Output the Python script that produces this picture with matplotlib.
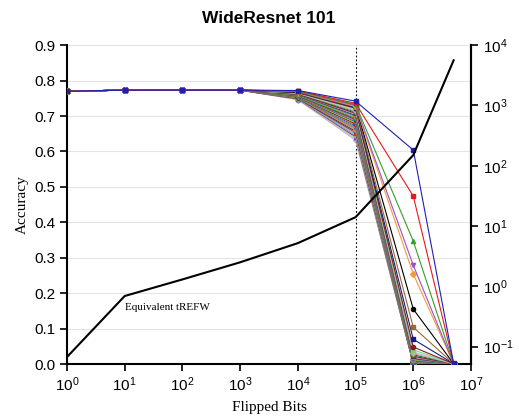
import matplotlib
matplotlib.use("Agg")
import matplotlib.pyplot as plt

plt.rcParams['font.family'] = ['Liberation Sans', 'DejaVu Sans']
plt.rcParams['axes.unicode_minus'] = False

# flipped bits at which accuracy was measured
bits = [1, 10, 100, 1000, 1e4, 1e5, 1e6, 5e6]

# accuracy shared by all runs for the first four points (1 .. 1000 bits)
acc_low = [0.770, 0.773, 0.773, 0.773]

# per-run accuracy at 1e4, 1e5, 1e6 and 5e6 flipped bits
acc_1e4 = [0.772, 0.771, 0.770, 0.770, 0.769, 0.768, 0.768, 0.767, 0.766, 0.765,
           0.765, 0.764, 0.763, 0.762, 0.762, 0.761, 0.760, 0.759, 0.758, 0.757,
           0.757, 0.756, 0.755, 0.754, 0.754, 0.753, 0.752, 0.751, 0.751, 0.750,
           0.749, 0.749, 0.748, 0.748, 0.747, 0.746]
acc_1e5 = [0.742, 0.736, 0.733, 0.730, 0.728, 0.731, 0.726, 0.724, 0.722, 0.720,
           0.717, 0.714, 0.711, 0.708, 0.705, 0.702, 0.699, 0.696, 0.693, 0.690,
           0.687, 0.684, 0.681, 0.678, 0.675, 0.672, 0.668, 0.665, 0.661, 0.657,
           0.653, 0.649, 0.645, 0.641, 0.636, 0.632]
acc_1e6 = [0.604, 0.474, 0.347, 0.279, 0.254, 0.155, 0.104, 0.070, 0.048, 0.040,
           0.034, 0.030, 0.026, 0.022, 0.019, 0.016, 0.014, 0.012, 0.010, 0.009,
           0.008, 0.007, 0.006, 0.005, 0.005, 0.004, 0.004, 0.003, 0.003, 0.002,
           0.002, 0.002, 0.001, 0.001, 0.001, 0.001]
acc_5e6 = [0.002, 0.001, 0.001, 0.001, 0.001, 0.001, 0.001, 0.001, 0.001, 0.001,
           0.001, 0.001, 0.001, 0.001, 0.001, 0.001, 0.001, 0.001, 0.001, 0.001,
           0.001, 0.001, 0.001, 0.001, 0.001, 0.001, 0.001, 0.001, 0.001, 0.001,
           0.001, 0.001, 0.001, 0.001, 0.001, 0.001]

# equivalent tREFW (right axis, log scale)
trefw = [0.067, 0.69, 1.3, 2.5, 5.2, 14, 150, 5600]

colors = ['#1f1fb4', '#e41a1c', '#33a02c', '#9a4fd0', '#f39c3c', '#000000',
          '#9c6b30', '#1a1a80', '#8b1a1a', '#7fcf7f', '#a6c8f0', '#c8a070',
          '#2e6b2e', '#6a1b6a', '#d08080', '#404040', '#5a7fd0', '#b0b000',
          '#008080', '#804000', '#cc66cc', '#336699', '#99cc33', '#663300',
          '#ff6666', '#3366cc', '#669966', '#996699', '#cc9933', '#333366',
          '#cc3333', '#66cccc', '#999999', '#6633cc', '#cccc66', '#b0b0e0']
markers = ['s', 's', '^', 'v', 'D', 'o', 's', 's', 'o', '^', 'v', 'D']

fig = plt.figure(figsize=(5.19, 4.18), dpi=100)
ax = fig.add_axes([0.129, 0.129, 0.7785, 0.763])

for i in reversed(range(len(acc_1e4))):
    y = acc_low + [acc_1e4[i], acc_1e5[i], acc_1e6[i], acc_5e6[i]]
    ax.plot(bits, y, color=colors[i], lw=0.8, marker=markers[i % len(markers)],
            ms=3, zorder=3)

ax.axvline(1e5, color='black', ls=(0, (1.5, 2)), lw=0.8, zorder=2)

ax.set_xscale('log')
ax.set_xlim(1, 1e7)
ax.set_ylim(0, 0.9)
ax.set_yticks([i / 10 for i in range(10)])
ax.set_yticklabels([f"{i / 10:.1f}" for i in range(10)])
ax.set_xticks([10 ** k for k in range(8)])
ax.minorticks_off()
ax.grid(axis='y', color='#e4e4e4', lw=0.8)
ax.set_axisbelow(True)

ax.spines['top'].set_visible(False)
for s in ['left', 'bottom', 'right']:
    ax.spines[s].set_linewidth(1.5)
ax.tick_params(direction='out', length=5, width=1.2, labelsize=11)

ax.set_xlabel("Flipped Bits", family='Liberation Serif', fontsize=11, labelpad=5)
ax.set_ylabel("Accuracy", family='Liberation Serif', fontsize=11)
ax.set_title("WideResnet 101", fontweight='bold', fontsize=12.5, pad=16)

ax2 = ax.twinx()
ax2.plot(bits, trefw, color='black', lw=1.5, zorder=4)
ax2.set_yscale('log')
ax2.set_ylim(10 ** -1.29, 1e4)
ax2.set_yticks([10 ** k for k in range(-1, 5)])
ax2.minorticks_off()
ax2.spines['top'].set_visible(False)
ax2.spines['right'].set_linewidth(1.5)
ax2.spines['left'].set_visible(False)
ax2.spines['bottom'].set_visible(False)
ax2.tick_params(direction='out', length=5, width=1.2, labelsize=11)

ax2.text(10, 0.52, "Equivalent tREFW", family='Liberation Serif', fontsize=8,
         va='top', ha='left')

fig.savefig("out.png", dpi=100)
